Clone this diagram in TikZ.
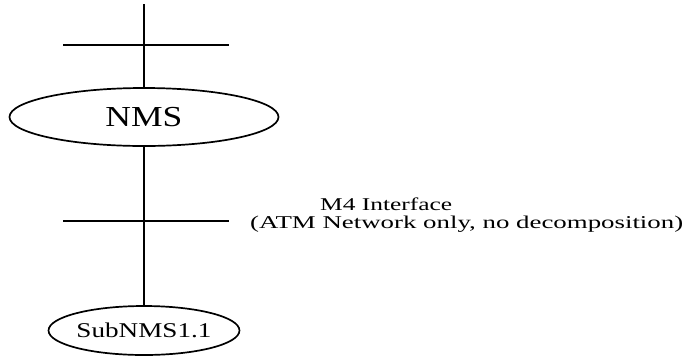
\documentclass[tikz,border=0pt]{standalone}
\usepackage{fontspec}
\setmainfont{Liberation Serif}
\usetikzlibrary{shapes.geometric}
\tikzset{
  bar/.style={line width=2.6pt},
  link/.style={line width=2pt},
  sysnode/.style={draw, ellipse, line width=1.7pt, inner sep=0pt},
  lbl/.style={inner sep=0pt, anchor=base west, font=\fontsize{18}{20}\selectfont}
}
\begin{document}
\begin{tikzpicture}[x=1pt, y=-1pt]
\useasboundingbox (0,0) rectangle (693,357);
% top manager and its interface bar
\node[sysnode, minimum width=269pt, minimum height=58pt] (nms) at (144,117)
  {\fontsize{29}{30}\selectfont\resizebox{77pt}{\height}{NMS}};
\coordinate (top) at (144,4);
\coordinate (b1l) at (63,45);
\coordinate (b1r) at (229,45);
\draw[link] (top) -- (nms.north);
\draw[bar] (b1l) -- (b1r);
% sub-network manager
\node[sysnode, minimum width=180pt, minimum height=49pt] (sub) at (144,330.5)
  {\fontsize{21}{22}\selectfont\resizebox{135pt}{\height}{SubNMS1.1}};
\coordinate (b2l) at (63,221);
\coordinate (b2r) at (229,221);
\draw[link] (nms.south) -- (sub.north);
\draw[bar] (b2l) -- (b2r);
% interface label
\node[lbl] (m4a) at (320,210) {\resizebox{132pt}{\height}{M4 Interface}};
\node[lbl] (m4b) at (250,228) {\resizebox{433pt}{\height}{(ATM Network only, no decomposition)}};
\end{tikzpicture}
\end{document}
